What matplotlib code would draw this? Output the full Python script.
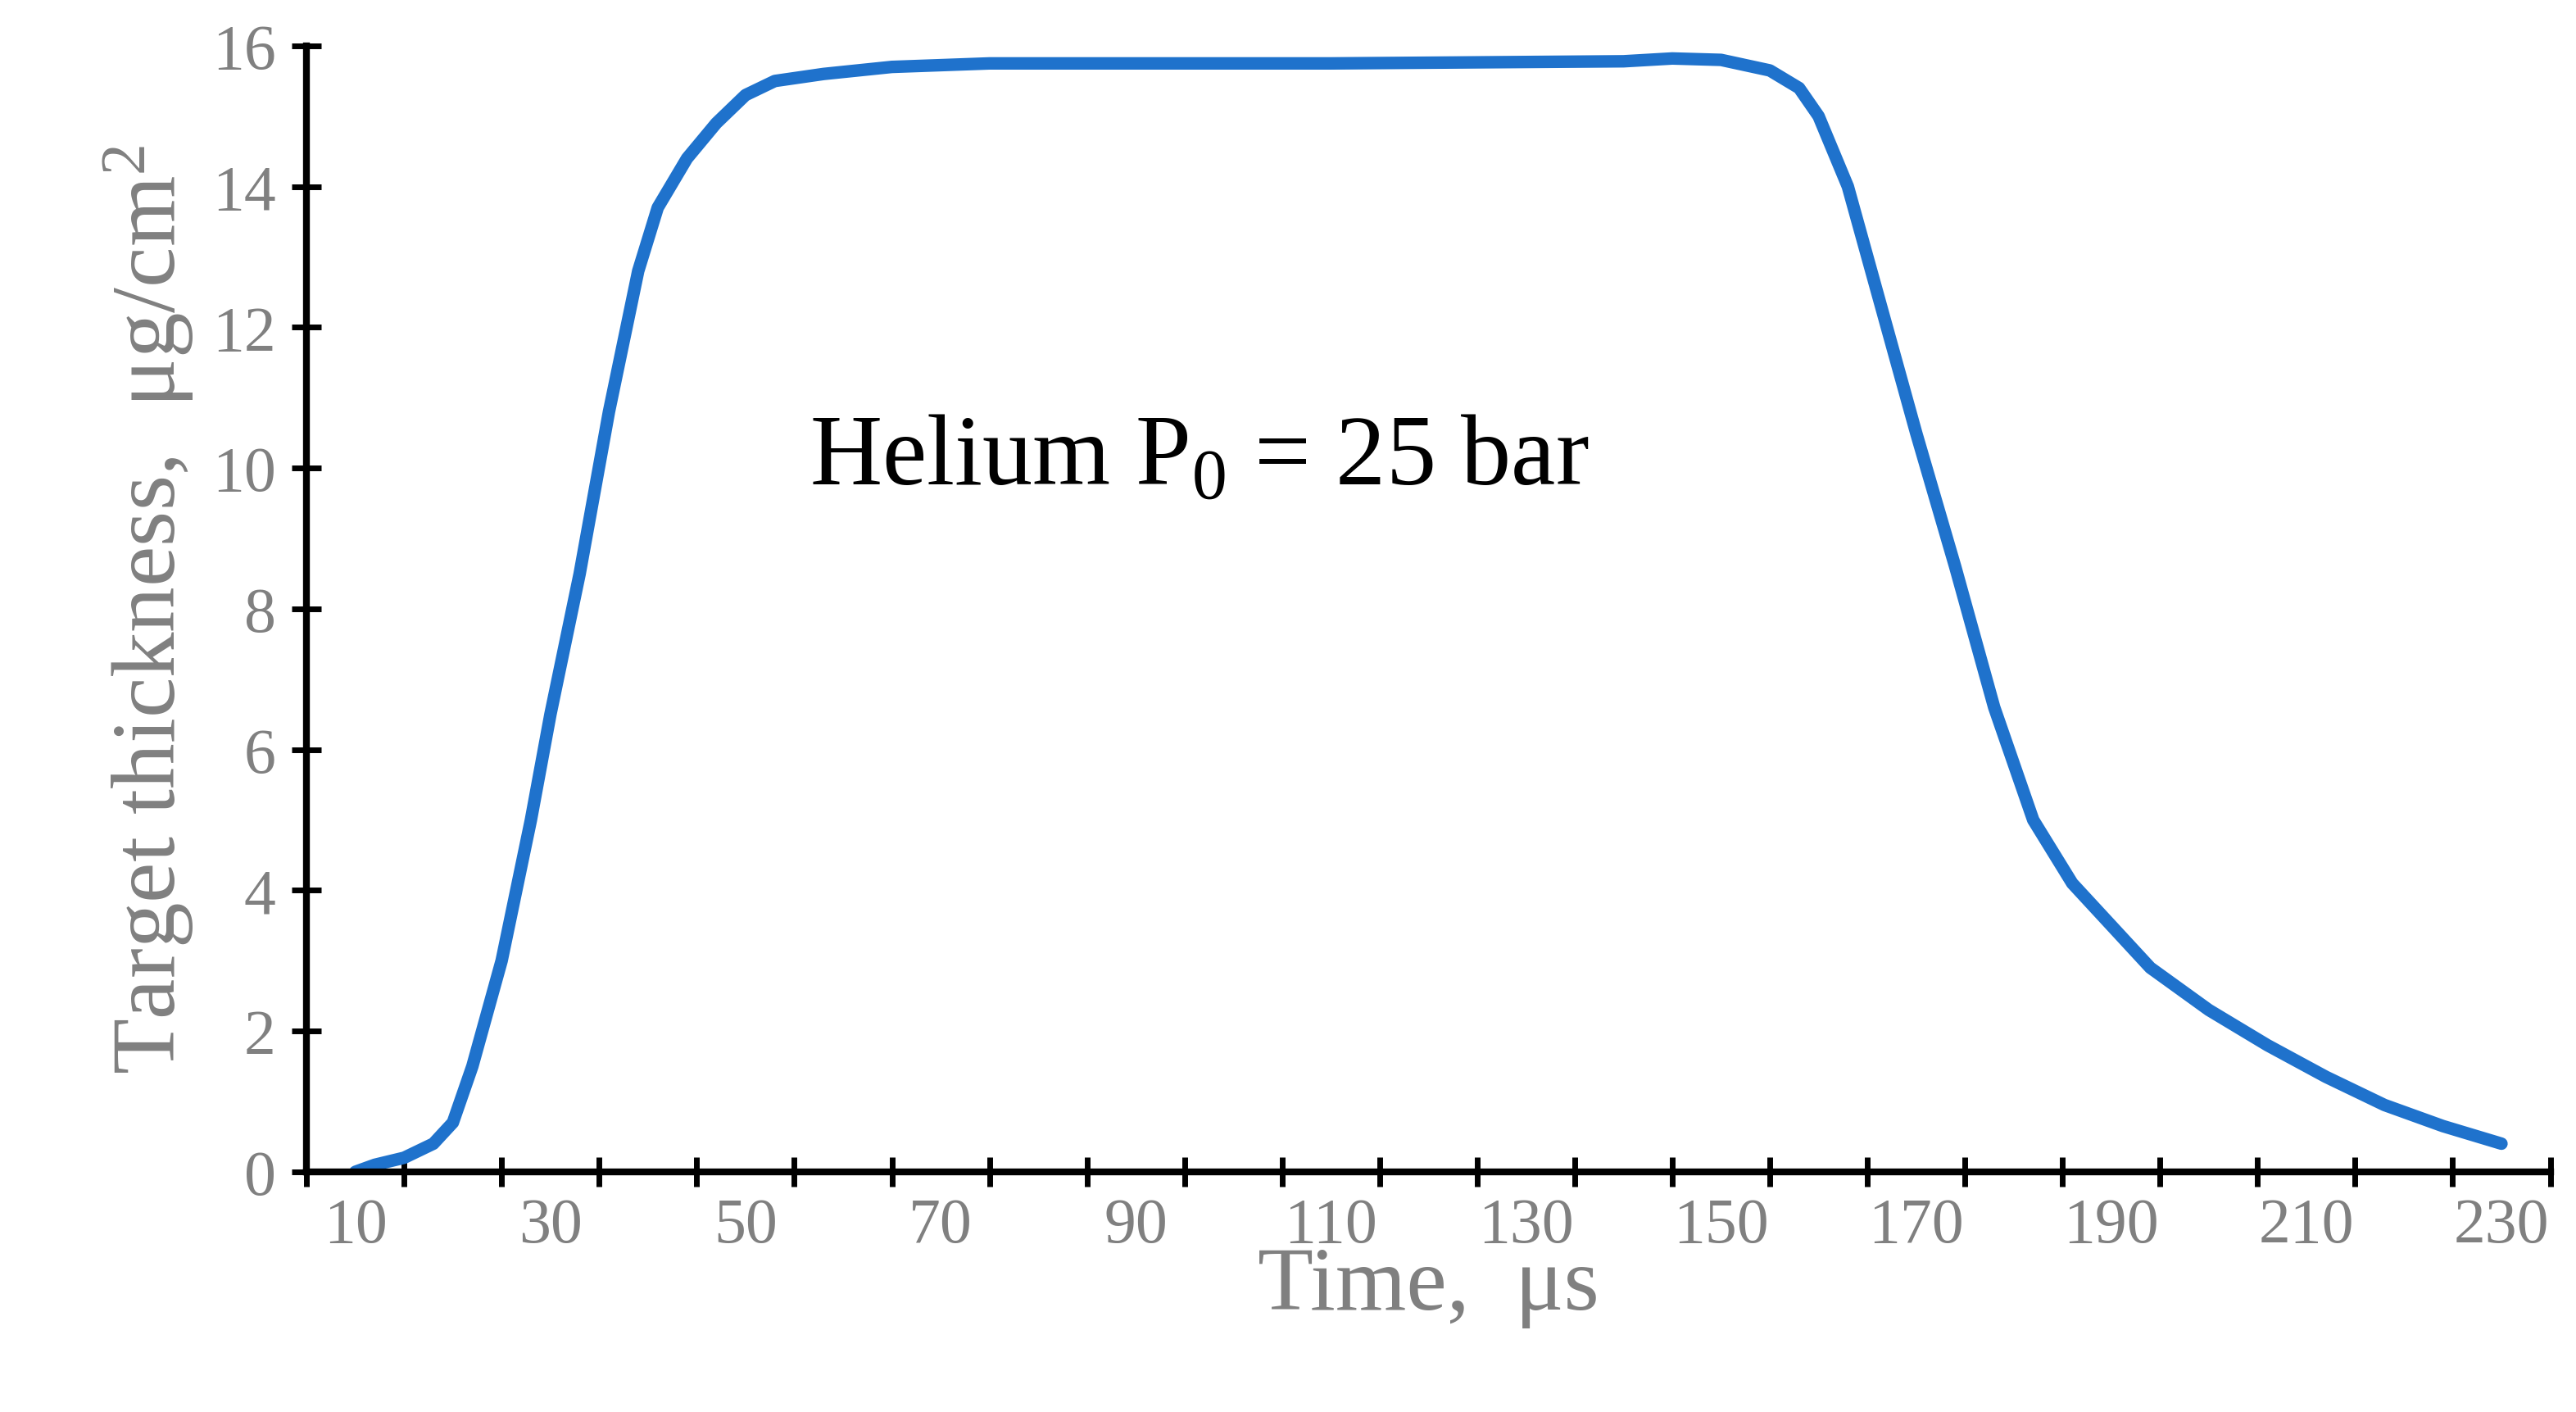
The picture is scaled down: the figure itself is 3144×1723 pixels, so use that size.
import numpy as np
import matplotlib
matplotlib.use('Agg')
import matplotlib.pyplot as plt

t = [10, 12, 15, 18, 20, 22, 25, 28, 30, 33, 36, 39, 41, 44, 47, 50, 53, 58, 65, 75,
     90, 110, 140, 145, 150, 155, 158, 160, 163, 166, 170, 174, 178, 182, 186, 190,
     194, 200, 206, 212, 218, 224, 230]
thick = [0.0, 0.1, 0.2, 0.4, 0.7, 1.5, 3.0, 5.0, 6.5, 8.5, 10.8, 12.8, 13.7, 14.4, 14.9,
         15.3, 15.5, 15.6, 15.7, 15.75, 15.75, 15.75, 15.78, 15.82, 15.8, 15.65, 15.4,
         15.0, 14.0, 12.5, 10.5, 8.6, 6.6, 5.0, 4.1, 3.5, 2.9, 2.3, 1.8, 1.35, 0.95, 0.65, 0.4]
xlabels = list(range(10, 231, 20))

plt.rcParams['font.family'] = ['Liberation Serif', 'DejaVu Serif']
plt.rcParams['mathtext.fontset'] = 'custom'
plt.rcParams['mathtext.rm'] = 'Liberation Serif'
plt.rcParams['mathtext.it'] = 'Liberation Serif'
plt.rcParams['mathtext.default'] = 'rm'

fig = plt.figure(figsize=(31.44, 17.24), dpi=100)
ax = fig.add_axes([0.119, 0.17, 0.871, 0.797])
ax.plot(t, thick, color='#1f72cc', lw=11, solid_capstyle='round', solid_joinstyle='round')
ax.set_xlim(5, 235)
ax.set_ylim(0, 16)
ax.set_xticks(xlabels)
ax.set_xticks(np.arange(5, 236, 10), minor=True)
ax.set_yticks(range(0, 17, 2))
ax.tick_params(axis='x', which='major', length=0, labelsize=56, labelcolor='#808080', pad=22)
ax.tick_params(axis='x', which='minor', length=26, width=5, direction='inout')
ax.tick_params(axis='y', which='major', length=26, width=5, direction='inout',
               labelsize=56, labelcolor='#808080', pad=14)
for s in ['top', 'right']:
    ax.spines[s].set_visible(False)
for s in ['left', 'bottom']:
    ax.spines[s].set_linewidth(6)
ax.set_xlabel('Time,  μs', fontsize=80, color='#808080', labelpad=-8)
ax.set_ylabel('Target thickness,  μg/cm$^2$', fontsize=80, color='#808080', labelpad=14)
ax.text(0.224, 0.61, 'Helium P$_0$ = 25 bar', transform=ax.transAxes, fontsize=88, color='black')
fig.savefig('out.png', dpi=100)
